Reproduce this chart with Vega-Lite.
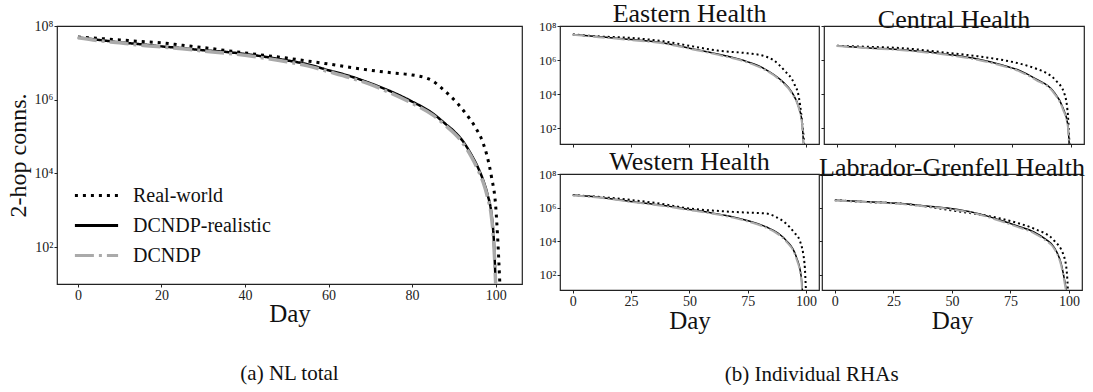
{
"$schema": "https://vega.github.io/schema/vega-lite/v6.json",
"padding": {"left": 5, "top": 0, "right": 2, "bottom": 0},
"background": "white",
"config": {
 "font": "Liberation Serif",
 "view": {"stroke": "#222", "strokeWidth": 1.2},
 "axis": {"domain": false, "grid": false, "tickColor": "#222", "labelColor": "#222", "titleColor": "#111", "labelFont": "Liberation Serif", "titleFont": "Liberation Serif", "titleFontWeight": "normal", "tickSize": 3, "labelPadding": 1},
 "legend": {"labelFont": "Liberation Serif"},
 "style": {"guide-label": {"font": "Liberation Serif"}, "guide-title": {"font": "Liberation Serif"}},
 "title": {"font": "Liberation Serif", "fontWeight": "normal", "color": "#111"},
 "line": {"clip": true}
},
"datasets": {"d": [
{"p":"NL","s":"Real-world","day":0,"v":5.0e7},{"p":"NL","s":"Real-world","day":5,"v":4.6e7},{"p":"NL","s":"Real-world","day":10,"v":4.2e7},{"p":"NL","s":"Real-world","day":15,"v":3.8e7},{"p":"NL","s":"Real-world","day":20,"v":3.5e7},{"p":"NL","s":"Real-world","day":25,"v":3.0e7},{"p":"NL","s":"Real-world","day":30,"v":2.6e7},{"p":"NL","s":"Real-world","day":35,"v":2.2e7},{"p":"NL","s":"Real-world","day":40,"v":1.86e7},{"p":"NL","s":"Real-world","day":45,"v":1.58e7},{"p":"NL","s":"Real-world","day":50,"v":1.35e7},{"p":"NL","s":"Real-world","day":55,"v":1.12e7},{"p":"NL","s":"Real-world","day":60,"v":9.3e6},{"p":"NL","s":"Real-world","day":65,"v":7.6e6},{"p":"NL","s":"Real-world","day":70,"v":6.3e6},{"p":"NL","s":"Real-world","day":75,"v":5.4e6},{"p":"NL","s":"Real-world","day":80,"v":4.7e6},{"p":"NL","s":"Real-world","day":83,"v":4.0e6},{"p":"NL","s":"Real-world","day":85,"v":3.2e6},{"p":"NL","s":"Real-world","day":87,"v":2.1e6},{"p":"NL","s":"Real-world","day":89,"v":1.3e6},{"p":"NL","s":"Real-world","day":91,"v":7.6e5},{"p":"NL","s":"Real-world","day":93,"v":4.0e5},{"p":"NL","s":"Real-world","day":95,"v":1.9e5},{"p":"NL","s":"Real-world","day":97,"v":6.6e4},{"p":"NL","s":"Real-world","day":98,"v":2.8e4},{"p":"NL","s":"Real-world","day":99,"v":8.0e3},{"p":"NL","s":"Real-world","day":100,"v":1.3e3},{"p":"NL","s":"Real-world","day":100.5,"v":160},{"p":"NL","s":"Real-world","day":101,"v":10},
{"p":"NL","s":"DCNDP-realistic","day":0,"v":4.9e7},{"p":"NL","s":"DCNDP-realistic","day":5,"v":4.2e7},{"p":"NL","s":"DCNDP-realistic","day":10,"v":3.6e7},{"p":"NL","s":"DCNDP-realistic","day":15,"v":3.2e7},{"p":"NL","s":"DCNDP-realistic","day":20,"v":2.8e7},{"p":"NL","s":"DCNDP-realistic","day":25,"v":2.5e7},{"p":"NL","s":"DCNDP-realistic","day":30,"v":2.2e7},{"p":"NL","s":"DCNDP-realistic","day":35,"v":2.0e7},{"p":"NL","s":"DCNDP-realistic","day":40,"v":1.74e7},{"p":"NL","s":"DCNDP-realistic","day":45,"v":1.45e7},{"p":"NL","s":"DCNDP-realistic","day":50,"v":1.17e7},{"p":"NL","s":"DCNDP-realistic","day":55,"v":9.1e6},{"p":"NL","s":"DCNDP-realistic","day":60,"v":6.3e6},{"p":"NL","s":"DCNDP-realistic","day":65,"v":4.4e6},{"p":"NL","s":"DCNDP-realistic","day":70,"v":2.8e6},{"p":"NL","s":"DCNDP-realistic","day":75,"v":1.66e6},{"p":"NL","s":"DCNDP-realistic","day":80,"v":8.9e5},{"p":"NL","s":"DCNDP-realistic","day":85,"v":4.2e5},{"p":"NL","s":"DCNDP-realistic","day":88,"v":2.2e5},{"p":"NL","s":"DCNDP-realistic","day":90,"v":1.4e5},{"p":"NL","s":"DCNDP-realistic","day":92,"v":7.9e4},{"p":"NL","s":"DCNDP-realistic","day":94,"v":3.5e4},{"p":"NL","s":"DCNDP-realistic","day":96,"v":1.26e4},{"p":"NL","s":"DCNDP-realistic","day":97,"v":6.6e3},{"p":"NL","s":"DCNDP-realistic","day":98,"v":2.8e3},{"p":"NL","s":"DCNDP-realistic","day":99,"v":790},{"p":"NL","s":"DCNDP-realistic","day":99.5,"v":200},{"p":"NL","s":"DCNDP-realistic","day":100,"v":10},
{"p":"NL","s":"DCNDP","day":0,"v":4.8e7},{"p":"NL","s":"DCNDP","day":5,"v":4.0e7},{"p":"NL","s":"DCNDP","day":10,"v":3.5e7},{"p":"NL","s":"DCNDP","day":15,"v":3.0e7},{"p":"NL","s":"DCNDP","day":20,"v":2.7e7},{"p":"NL","s":"DCNDP","day":25,"v":2.4e7},{"p":"NL","s":"DCNDP","day":30,"v":2.1e7},{"p":"NL","s":"DCNDP","day":35,"v":1.85e7},{"p":"NL","s":"DCNDP","day":40,"v":1.6e7},{"p":"NL","s":"DCNDP","day":45,"v":1.33e7},{"p":"NL","s":"DCNDP","day":50,"v":1.07e7},{"p":"NL","s":"DCNDP","day":55,"v":8.3e6},{"p":"NL","s":"DCNDP","day":60,"v":5.8e6},{"p":"NL","s":"DCNDP","day":65,"v":4.0e6},{"p":"NL","s":"DCNDP","day":70,"v":2.6e6},{"p":"NL","s":"DCNDP","day":75,"v":1.5e6},{"p":"NL","s":"DCNDP","day":80,"v":8.0e5},{"p":"NL","s":"DCNDP","day":85,"v":3.8e5},{"p":"NL","s":"DCNDP","day":88,"v":2.0e5},{"p":"NL","s":"DCNDP","day":90,"v":1.25e5},{"p":"NL","s":"DCNDP","day":92,"v":7.0e4},{"p":"NL","s":"DCNDP","day":94,"v":3.1e4},{"p":"NL","s":"DCNDP","day":96,"v":1.1e4},{"p":"NL","s":"DCNDP","day":97,"v":5.8e3},{"p":"NL","s":"DCNDP","day":98,"v":2.4e3},{"p":"NL","s":"DCNDP","day":99,"v":650},{"p":"NL","s":"DCNDP","day":99.5,"v":160},{"p":"NL","s":"DCNDP","day":100,"v":10},
{"p":"Eastern","s":"Real-world","day":0,"v":3.2e7},{"p":"Eastern","s":"Real-world","day":10,"v":2.5e7},{"p":"Eastern","s":"Real-world","day":25,"v":2.0e7},{"p":"Eastern","s":"Real-world","day":39,"v":1.26e7},{"p":"Eastern","s":"Real-world","day":50,"v":6.9e6},{"p":"Eastern","s":"Real-world","day":62,"v":3.6e6},{"p":"Eastern","s":"Real-world","day":75,"v":2.5e6},{"p":"Eastern","s":"Real-world","day":82,"v":1.74e6},{"p":"Eastern","s":"Real-world","day":86,"v":1.0e6},{"p":"Eastern","s":"Real-world","day":90.7,"v":2.5e5},{"p":"Eastern","s":"Real-world","day":95,"v":4.0e4},{"p":"Eastern","s":"Real-world","day":97,"v":6.3e3},{"p":"Eastern","s":"Real-world","day":98,"v":630},{"p":"Eastern","s":"Real-world","day":98.8,"v":60},{"p":"Eastern","s":"Real-world","day":99.3,"v":10},
{"p":"Eastern","s":"DCNDP-realistic","day":0,"v":3.2e7},{"p":"Eastern","s":"DCNDP-realistic","day":10,"v":2.4e7},{"p":"Eastern","s":"DCNDP-realistic","day":25,"v":1.6e7},{"p":"Eastern","s":"DCNDP-realistic","day":40,"v":9.5e6},{"p":"Eastern","s":"DCNDP-realistic","day":50,"v":5.0e6},{"p":"Eastern","s":"DCNDP-realistic","day":62,"v":2.3e6},{"p":"Eastern","s":"DCNDP-realistic","day":75,"v":7.9e5},{"p":"Eastern","s":"DCNDP-realistic","day":82,"v":3.2e5},{"p":"Eastern","s":"DCNDP-realistic","day":89.5,"v":6.3e4},{"p":"Eastern","s":"DCNDP-realistic","day":94,"v":1.26e4},{"p":"Eastern","s":"DCNDP-realistic","day":97,"v":1.6e3},{"p":"Eastern","s":"DCNDP-realistic","day":98.3,"v":250},{"p":"Eastern","s":"DCNDP-realistic","day":99,"v":10},
{"p":"Eastern","s":"DCNDP","day":0,"v":3.1e7},{"p":"Eastern","s":"DCNDP","day":10,"v":2.3e7},{"p":"Eastern","s":"DCNDP","day":25,"v":1.5e7},{"p":"Eastern","s":"DCNDP","day":40,"v":9.0e6},{"p":"Eastern","s":"DCNDP","day":50,"v":4.7e6},{"p":"Eastern","s":"DCNDP","day":62,"v":2.1e6},{"p":"Eastern","s":"DCNDP","day":75,"v":7.2e5},{"p":"Eastern","s":"DCNDP","day":82,"v":2.9e5},{"p":"Eastern","s":"DCNDP","day":89.5,"v":5.6e4},{"p":"Eastern","s":"DCNDP","day":94,"v":1.1e4},{"p":"Eastern","s":"DCNDP","day":97,"v":1.4e3},{"p":"Eastern","s":"DCNDP","day":98.3,"v":200},{"p":"Eastern","s":"DCNDP","day":99,"v":10},
{"p":"Central","s":"Real-world","day":0,"v":6.9e6},{"p":"Central","s":"Real-world","day":14,"v":6.0e6},{"p":"Central","s":"Real-world","day":28,"v":5.0e6},{"p":"Central","s":"Real-world","day":49,"v":2.5e6},{"p":"Central","s":"Real-world","day":60,"v":1.7e6},{"p":"Central","s":"Real-world","day":71,"v":1.0e6},{"p":"Central","s":"Real-world","day":78,"v":6.3e5},{"p":"Central","s":"Real-world","day":85,"v":3.2e5},{"p":"Central","s":"Real-world","day":90,"v":1.6e5},{"p":"Central","s":"Real-world","day":93.6,"v":6.3e4},{"p":"Central","s":"Real-world","day":97.3,"v":1.0e4},{"p":"Central","s":"Real-world","day":98.7,"v":630},{"p":"Central","s":"Real-world","day":99.4,"v":10},
{"p":"Central","s":"DCNDP-realistic","day":0,"v":6.9e6},{"p":"Central","s":"DCNDP-realistic","day":14,"v":5.2e6},{"p":"Central","s":"DCNDP-realistic","day":28,"v":4.0e6},{"p":"Central","s":"DCNDP-realistic","day":49,"v":2.0e6},{"p":"Central","s":"DCNDP-realistic","day":60,"v":1.15e6},{"p":"Central","s":"DCNDP-realistic","day":71,"v":5.0e5},{"p":"Central","s":"DCNDP-realistic","day":78,"v":2.5e5},{"p":"Central","s":"DCNDP-realistic","day":85,"v":7.9e4},{"p":"Central","s":"DCNDP-realistic","day":92.3,"v":1.6e4},{"p":"Central","s":"DCNDP-realistic","day":96.6,"v":1.6e3},{"p":"Central","s":"DCNDP-realistic","day":98.7,"v":160},{"p":"Central","s":"DCNDP-realistic","day":99.3,"v":10},
{"p":"Central","s":"DCNDP","day":0,"v":6.7e6},{"p":"Central","s":"DCNDP","day":14,"v":5.0e6},{"p":"Central","s":"DCNDP","day":28,"v":3.8e6},{"p":"Central","s":"DCNDP","day":49,"v":1.85e6},{"p":"Central","s":"DCNDP","day":60,"v":1.05e6},{"p":"Central","s":"DCNDP","day":71,"v":4.5e5},{"p":"Central","s":"DCNDP","day":78,"v":2.2e5},{"p":"Central","s":"DCNDP","day":85,"v":6.9e4},{"p":"Central","s":"DCNDP","day":92.3,"v":1.4e4},{"p":"Central","s":"DCNDP","day":96.6,"v":1.3e3},{"p":"Central","s":"DCNDP","day":98.7,"v":130},{"p":"Central","s":"DCNDP","day":99.2,"v":10},
{"p":"Western","s":"Real-world","day":0,"v":5.5e6},{"p":"Western","s":"Real-world","day":12,"v":4.2e6},{"p":"Western","s":"Real-world","day":25.7,"v":2.75e6},{"p":"Western","s":"Real-world","day":38,"v":1.66e6},{"p":"Western","s":"Real-world","day":50,"v":8.7e5},{"p":"Western","s":"Real-world","day":60,"v":6.6e5},{"p":"Western","s":"Real-world","day":68.7,"v":5.5e5},{"p":"Western","s":"Real-world","day":76,"v":4.9e5},{"p":"Western","s":"Real-world","day":83,"v":4.4e5},{"p":"Western","s":"Real-world","day":87,"v":2.8e5},{"p":"Western","s":"Real-world","day":91.5,"v":1.1e5},{"p":"Western","s":"Real-world","day":95,"v":3.2e4},{"p":"Western","s":"Real-world","day":97.3,"v":1.1e4},{"p":"Western","s":"Real-world","day":99.4,"v":440},{"p":"Western","s":"Real-world","day":100,"v":10},
{"p":"Western","s":"DCNDP-realistic","day":0,"v":5.5e6},{"p":"Western","s":"DCNDP-realistic","day":12,"v":4.0e6},{"p":"Western","s":"DCNDP-realistic","day":25.7,"v":2.2e6},{"p":"Western","s":"DCNDP-realistic","day":38,"v":1.35e6},{"p":"Western","s":"DCNDP-realistic","day":50,"v":7.6e5},{"p":"Western","s":"DCNDP-realistic","day":60,"v":4.6e5},{"p":"Western","s":"DCNDP-realistic","day":68.7,"v":2.75e5},{"p":"Western","s":"DCNDP-realistic","day":76,"v":1.5e5},{"p":"Western","s":"DCNDP-realistic","day":83,"v":6.9e4},{"p":"Western","s":"DCNDP-realistic","day":88,"v":3.0e4},{"p":"Western","s":"DCNDP-realistic","day":91.5,"v":1.1e4},{"p":"Western","s":"DCNDP-realistic","day":95.9,"v":1.1e3},{"p":"Western","s":"DCNDP-realistic","day":98,"v":69},{"p":"Western","s":"DCNDP-realistic","day":98.5,"v":10},
{"p":"Western","s":"DCNDP","day":0,"v":5.3e6},{"p":"Western","s":"DCNDP","day":12,"v":3.8e6},{"p":"Western","s":"DCNDP","day":25.7,"v":2.1e6},{"p":"Western","s":"DCNDP","day":38,"v":1.28e6},{"p":"Western","s":"DCNDP","day":50,"v":7.1e5},{"p":"Western","s":"DCNDP","day":60,"v":4.3e5},{"p":"Western","s":"DCNDP","day":68.7,"v":2.5e5},{"p":"Western","s":"DCNDP","day":76,"v":1.35e5},{"p":"Western","s":"DCNDP","day":83,"v":6.2e4},{"p":"Western","s":"DCNDP","day":88,"v":2.6e4},{"p":"Western","s":"DCNDP","day":91.5,"v":9.5e3},{"p":"Western","s":"DCNDP","day":95.9,"v":900},{"p":"Western","s":"DCNDP","day":98,"v":50},{"p":"Western","s":"DCNDP","day":98.4,"v":10},
{"p":"Labrador","s":"Real-world","day":0,"v":2.75e6},{"p":"Labrador","s":"Real-world","day":14,"v":2.1e6},{"p":"Labrador","s":"Real-world","day":27.9,"v":1.74e6},{"p":"Labrador","s":"Real-world","day":40,"v":1.1e6},{"p":"Labrador","s":"Real-world","day":49.4,"v":6.9e5},{"p":"Labrador","s":"Real-world","day":60,"v":4.2e5},{"p":"Labrador","s":"Real-world","day":70.8,"v":2.2e5},{"p":"Labrador","s":"Real-world","day":78,"v":1.2e5},{"p":"Labrador","s":"Real-world","day":85,"v":5.5e4},{"p":"Labrador","s":"Real-world","day":93.6,"v":1.1e4},{"p":"Labrador","s":"Real-world","day":98,"v":1.1e3},{"p":"Labrador","s":"Real-world","day":99.2,"v":100},{"p":"Labrador","s":"Real-world","day":99.6,"v":10},
{"p":"Labrador","s":"DCNDP-realistic","day":0,"v":2.75e6},{"p":"Labrador","s":"DCNDP-realistic","day":14,"v":2.2e6},{"p":"Labrador","s":"DCNDP-realistic","day":27.9,"v":1.74e6},{"p":"Labrador","s":"DCNDP-realistic","day":40,"v":1.2e6},{"p":"Labrador","s":"DCNDP-realistic","day":49.4,"v":8.7e5},{"p":"Labrador","s":"DCNDP-realistic","day":60,"v":4.8e5},{"p":"Labrador","s":"DCNDP-realistic","day":70.8,"v":1.74e5},{"p":"Labrador","s":"DCNDP-realistic","day":78,"v":8.0e4},{"p":"Labrador","s":"DCNDP-realistic","day":85,"v":3.5e4},{"p":"Labrador","s":"DCNDP-realistic","day":90,"v":1.3e4},{"p":"Labrador","s":"DCNDP-realistic","day":93.6,"v":4.4e3},{"p":"Labrador","s":"DCNDP-realistic","day":96.7,"v":440},{"p":"Labrador","s":"DCNDP-realistic","day":99,"v":10},
{"p":"Labrador","s":"DCNDP","day":0,"v":2.6e6},{"p":"Labrador","s":"DCNDP","day":14,"v":2.1e6},{"p":"Labrador","s":"DCNDP","day":27.9,"v":1.65e6},{"p":"Labrador","s":"DCNDP","day":40,"v":1.12e6},{"p":"Labrador","s":"DCNDP","day":49.4,"v":8.0e5},{"p":"Labrador","s":"DCNDP","day":60,"v":4.4e5},{"p":"Labrador","s":"DCNDP","day":70.8,"v":1.55e5},{"p":"Labrador","s":"DCNDP","day":78,"v":7.0e4},{"p":"Labrador","s":"DCNDP","day":85,"v":3.0e4},{"p":"Labrador","s":"DCNDP","day":90,"v":1.1e4},{"p":"Labrador","s":"DCNDP","day":93.6,"v":3.7e3},{"p":"Labrador","s":"DCNDP","day":96.7,"v":350},{"p":"Labrador","s":"DCNDP","day":98.8,"v":10}
]},
"data": {"name": "d"},
"resolve": {"scale": {"x": "independent", "y": "independent"}},
"spacing": 14,
"hconcat": [
 {
  "width": 465, "height": 258,
  "title": {"text": "(a) NL total", "orient": "bottom", "fontSize": 21, "offset": 37},
  "encoding": {
   "x": {"field": "day", "type": "quantitative", "scale": {"domain": [-5, 106.3], "nice": false, "zero": false}, "axis": {"values": [0,20,40,60,80,100], "title": "Day", "titleFontSize": 25, "labelFontSize": 14, "titlePadding": -1}},
   "y": {"field": "v", "type": "quantitative", "scale": {"type": "log", "domain": [10, 100000000], "nice": false}, "axis": {"values": [100,10000,1000000,100000000], "labelExpr": "datum.value == 100 ? '10²' : datum.value == 10000 ? '10⁴' : datum.value == 1000000 ? '10⁶' : '10⁸'", "title": "2-hop conns.", "titleFontSize": 24, "labelFontSize": 14, "titlePadding": 4}},
   "color": {"field": "s", "type": "nominal", "scale": {"domain": ["Real-world", "DCNDP-realistic", "DCNDP"], "range": ["#000000", "#000000", "#aaaaaa"]}, "legend": {"orient": "none", "legendX": 20, "legendY": 150, "title": null, "symbolType": "M-1.2,0L1.2,0", "symbolSize": 1296, "symbolStrokeWidth": 3, "symbolFillColor": "transparent", "labelFontSize": 20, "labelFont": "Liberation Serif", "labelColor": "#111", "labelOffset": 17, "rowPadding": 0}},
   "strokeDash": {"field": "s", "type": "nominal", "scale": {"domain": ["Real-world", "DCNDP-realistic", "DCNDP"], "range": [[3,5],[1,0],[19,5,3,5]]}, "legend": {"orient": "none", "legendX": 20, "legendY": 150, "title": null, "symbolType": "M-1.2,0L1.2,0", "symbolSize": 1296, "symbolStrokeWidth": 3, "symbolFillColor": "transparent", "labelFontSize": 20, "labelFont": "Liberation Serif", "labelColor": "#111", "labelOffset": 17, "rowPadding": 0}}
  },
  "layer": [
   {"transform": [{"filter": "datum.p == 'NL' && datum.s == 'Real-world'"}], "mark": {"type": "line", "strokeWidth": 3, "interpolate": "monotone", "clip": true}},
   {"transform": [{"filter": "datum.p == 'NL' && datum.s == 'DCNDP-realistic'"}], "mark": {"type": "line", "strokeWidth": 2.5, "interpolate": "monotone", "clip": true}},
   {"transform": [{"filter": "datum.p == 'NL' && datum.s == 'DCNDP'"}], "mark": {"type": "line", "strokeWidth": 3.5, "interpolate": "monotone", "clip": true}}
  ]
 },
 {
  "title": {"text": "(b) Individual RHAs", "orient": "bottom", "anchor": "middle", "fontSize": 21, "offset": 30},
  "resolve": {"scale": {"x": "independent", "y": "independent"}},
  "spacing": -1,
  "vconcat": [
   {
    "resolve": {"scale": {"x": "independent", "y": "independent"}},
    "spacing": -1,
    "hconcat": [
     {
      "width": 259, "height": 118,
      "title": {"text": "Eastern Health", "fontSize": 26, "offset": -7},
      "encoding": {
       "x": {"field": "day", "type": "quantitative", "scale": {"domain": [-5.5, 105.6], "nice": false, "zero": false}, "axis": {"values": [0,25,50,75,100], "labels": false, "title": null}},
       "y": {"field": "v", "type": "quantitative", "scale": {"type": "log", "domain": [12, 100000000], "nice": false}, "axis": {"values": [100,10000,1000000,100000000], "labelExpr": "datum.value == 100 ? '10²' : datum.value == 10000 ? '10⁴' : datum.value == 1000000 ? '10⁶' : '10⁸'", "title": null, "labelFontSize": 13}}
      },
      "layer": [
       {"transform": [{"filter": "datum.p == 'Eastern' && datum.s == 'Real-world'"}], "mark": {"type": "line", "color": "#000", "strokeDash": [2,3], "strokeWidth": 2, "interpolate": "monotone", "clip": true}},
       {"transform": [{"filter": "datum.p == 'Eastern' && datum.s == 'DCNDP-realistic'"}], "mark": {"type": "line", "color": "#000", "strokeWidth": 1.5, "interpolate": "monotone", "clip": true}},
       {"transform": [{"filter": "datum.p == 'Eastern' && datum.s == 'DCNDP'"}], "mark": {"type": "line", "color": "#aaaaaa", "strokeDash": [12,3,2,3], "strokeWidth": 2, "interpolate": "monotone", "clip": true}}
      ]
     },
     {
      "width": 260, "height": 118,
      "title": {"text": "Central Health", "fontSize": 26, "offset": -7},
      "encoding": {
       "x": {"field": "day", "type": "quantitative", "scale": {"domain": [-5.5, 105.6], "nice": false, "zero": false}, "axis": {"values": [0,25,50,75,100], "labels": false, "title": null}},
       "y": {"field": "v", "type": "quantitative", "scale": {"type": "log", "domain": [12, 100000000], "nice": false}, "axis": {"values": [100,10000,1000000,100000000], "labels": false, "title": null}}
      },
      "layer": [
       {"transform": [{"filter": "datum.p == 'Central' && datum.s == 'Real-world'"}], "mark": {"type": "line", "color": "#000", "strokeDash": [2,3], "strokeWidth": 2, "interpolate": "monotone", "clip": true}},
       {"transform": [{"filter": "datum.p == 'Central' && datum.s == 'DCNDP-realistic'"}], "mark": {"type": "line", "color": "#000", "strokeWidth": 1.5, "interpolate": "monotone", "clip": true}},
       {"transform": [{"filter": "datum.p == 'Central' && datum.s == 'DCNDP'"}], "mark": {"type": "line", "color": "#aaaaaa", "strokeDash": [12,3,2,3], "strokeWidth": 2, "interpolate": "monotone", "clip": true}}
      ]
     }
    ]
   },
   {
    "resolve": {"scale": {"x": "independent", "y": "independent"}},
    "spacing": -3,
    "hconcat": [
     {
      "width": 259, "height": 116,
      "title": {"text": "Western Health", "fontSize": 26, "offset": -7},
      "encoding": {
       "x": {"field": "day", "type": "quantitative", "scale": {"domain": [-5.5, 105.6], "nice": false, "zero": false}, "axis": {"values": [0,25,50,75,100], "title": "Day", "titleFontSize": 25, "labelFontSize": 14, "titlePadding": 0}},
       "y": {"field": "v", "type": "quantitative", "scale": {"type": "log", "domain": [12, 100000000], "nice": false}, "axis": {"values": [100,10000,1000000,100000000], "labelExpr": "datum.value == 100 ? '10²' : datum.value == 10000 ? '10⁴' : datum.value == 1000000 ? '10⁶' : '10⁸'", "title": null, "labelFontSize": 13}}
      },
      "layer": [
       {"transform": [{"filter": "datum.p == 'Western' && datum.s == 'Real-world'"}], "mark": {"type": "line", "color": "#000", "strokeDash": [2,3], "strokeWidth": 2, "interpolate": "monotone", "clip": true}},
       {"transform": [{"filter": "datum.p == 'Western' && datum.s == 'DCNDP-realistic'"}], "mark": {"type": "line", "color": "#000", "strokeWidth": 1.5, "interpolate": "monotone", "clip": true}},
       {"transform": [{"filter": "datum.p == 'Western' && datum.s == 'DCNDP'"}], "mark": {"type": "line", "color": "#aaaaaa", "strokeDash": [12,3,2,3], "strokeWidth": 2, "interpolate": "monotone", "clip": true}}
      ]
     },
     {
      "width": 260, "height": 116,
      "title": {"text": "Labrador-Grenfell Health", "fontSize": 26, "offset": -7},
      "encoding": {
       "x": {"field": "day", "type": "quantitative", "scale": {"domain": [-5.5, 105.6], "nice": false, "zero": false}, "axis": {"values": [0,25,50,75,100], "title": "Day", "titleFontSize": 25, "labelFontSize": 14, "titlePadding": 0}},
       "y": {"field": "v", "type": "quantitative", "scale": {"type": "log", "domain": [12, 100000000], "nice": false}, "axis": {"values": [100,10000,1000000,100000000], "labels": false, "title": null}}
      },
      "layer": [
       {"transform": [{"filter": "datum.p == 'Labrador' && datum.s == 'Real-world'"}], "mark": {"type": "line", "color": "#000", "strokeDash": [2,3], "strokeWidth": 2, "interpolate": "monotone", "clip": true}},
       {"transform": [{"filter": "datum.p == 'Labrador' && datum.s == 'DCNDP-realistic'"}], "mark": {"type": "line", "color": "#000", "strokeWidth": 1.5, "interpolate": "monotone", "clip": true}},
       {"transform": [{"filter": "datum.p == 'Labrador' && datum.s == 'DCNDP'"}], "mark": {"type": "line", "color": "#aaaaaa", "strokeDash": [12,3,2,3], "strokeWidth": 2, "interpolate": "monotone", "clip": true}}
      ]
     }
    ]
   }
  ]
 }
]
}
